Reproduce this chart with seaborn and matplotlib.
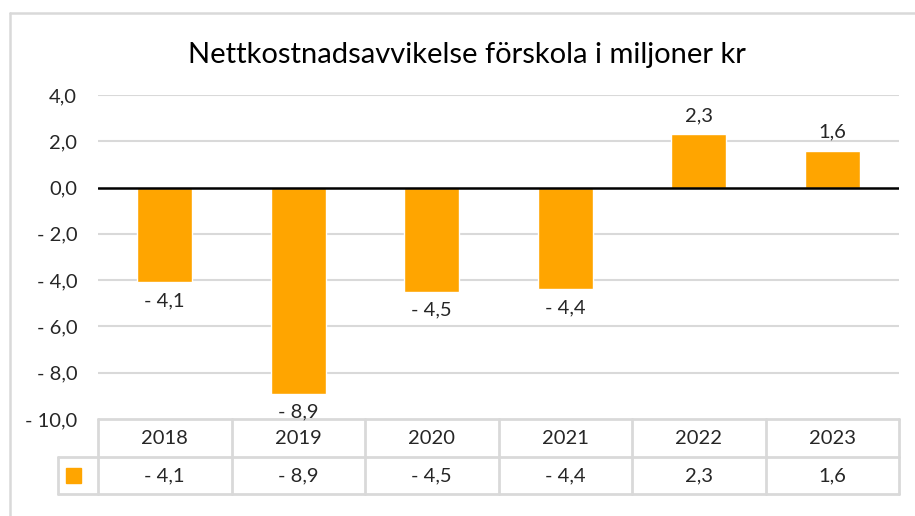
import matplotlib
matplotlib.use("Agg")
import matplotlib.pyplot as plt
import matplotlib.transforms as mtransforms
from matplotlib.lines import Line2D
from matplotlib.patches import Rectangle
import seaborn as sns
import pandas as pd

years = ["2018", "2019", "2020", "2021", "2022", "2023"]
values = [-4.1, -8.9, -4.5, -4.4, 2.3, 1.6]
title = "Nettkostnadsavvikelse förskola i miljoner kr"

bar_color = "#FFA500"
grid_color = "#D9D9D9"
text_color = "#262626"


def fmt(v):
    s = f"{abs(v):.1f}".replace(".", ",")
    return f"- {s}" if v < 0 else s


sns.set_theme(style="white")
plt.rcParams["font.family"] = ["Lato", "DejaVu Sans"]

df = pd.DataFrame({"year": years, "value": values})

fig = plt.figure(figsize=(9.15, 5.16), dpi=100)
ax = fig.add_axes([98 / 915, 1 - 419 / 516, 801 / 915, 324 / 516])

sns.barplot(data=df, x="year", y="value", color=bar_color, width=0.41,
            saturation=1, ax=ax)

ax.set_ylim(-10, 4)
ax.set_xlim(-0.5, len(years) - 0.5)
yticks = [4, 2, 0, -2, -4, -6, -8, -10]
ax.set_yticks(yticks)
ax.set_yticklabels([fmt(t) for t in yticks], fontsize=14.5, color=text_color)
ax.tick_params(axis="y", length=0, pad=15)
ax.set_xticks([])
ax.set_xlabel("")
ax.set_ylabel("")
for s in ax.spines.values():
    s.set_visible(False)

for t in [4, 2, -2, -4, -6, -8]:
    ax.axhline(t, color=grid_color, lw=1.5, zorder=0)
ax.axhline(0, color="black", lw=1.8, zorder=3)

ax.bar_label(ax.containers[0], labels=[fmt(v) for v in values],
             padding=7, fontsize=14.5, color=text_color)

fig.text(467 / 915, 1 - 55 / 516, title, ha="center", va="center",
         fontsize=21, color="black")

# data table under the axis
tr = mtransforms.blended_transform_factory(ax.transData, ax.transAxes)
row_top = 0.0
row_mid = -38 / 324
row_bot = -75 / 324
line_kw = dict(color=grid_color, lw=2, transform=tr, clip_on=False)
ax.add_line(Line2D([-0.5, 5.5], [row_top, row_top], **line_kw))
ax.add_line(Line2D([-0.8, 5.5], [row_mid, row_mid], **line_kw))
ax.add_line(Line2D([-0.8, 5.5], [row_bot, row_bot], **line_kw))
ax.add_line(Line2D([-0.8, -0.8], [row_mid, row_bot], **line_kw))
for b in [i - 0.5 for i in range(len(years) + 1)]:
    ax.add_line(Line2D([b, b], [row_top, row_bot], **line_kw))
for i, (y, v) in enumerate(zip(years, values)):
    ax.text(i, (row_top + row_mid) / 2, y, ha="center", va="center",
            fontsize=14.5, color=text_color, transform=tr, clip_on=False)
    ax.text(i, (row_mid + row_bot) / 2, fmt(v), ha="center", va="center",
            fontsize=14.5, color=text_color, transform=tr, clip_on=False)
ax.add_patch(Rectangle((-0.739, (row_mid + row_bot) / 2 - 0.023), 0.112, 0.046,
                       color=bar_color, transform=tr, clip_on=False))

# outer chart frame
fig.add_artist(Line2D([10 / 915, 10 / 915], [0, 1 - 13 / 516],
                      color=grid_color, lw=1.8, transform=fig.transFigure))
fig.add_artist(Line2D([10 / 915, 1], [1 - 13 / 516, 1 - 13 / 516],
                      color=grid_color, lw=1.8, transform=fig.transFigure))

fig.savefig("out.png", dpi=100)
